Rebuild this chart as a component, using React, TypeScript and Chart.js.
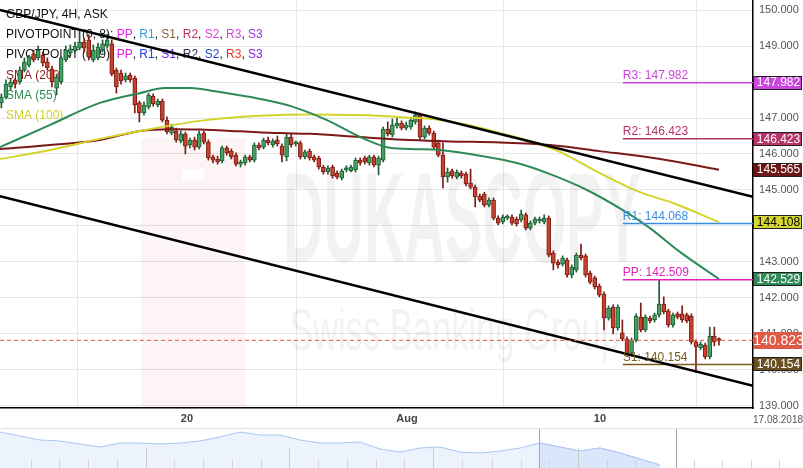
import React, { useEffect, useRef } from 'react';
import { Chart, registerables } from 'chart.js';
Chart.register(...registerables);

const FONT = "'Liberation Sans', Arial, Helvetica, sans-serif";

// ---- candles (4H, GBP/JPY) ----
const OPEN = [
  147.42, 147.58, 147.86, 148.06, 148.00, 148.33, 148.47, 148.78, 148.67, 148.75,
  148.56, 148.36, 147.83, 148.00, 148.61, 148.81, 148.86, 148.94, 149.11, 149.17,
  148.61, 148.67, 148.89, 149.00, 149.06, 148.33, 148.25, 148.06, 148.19, 148.11,
  147.42, 147.14, 147.31, 147.61, 147.36, 147.47, 146.94, 146.58, 146.64, 146.36,
  146.56, 146.25, 146.39, 146.19, 146.58, 146.33, 145.92, 145.86, 145.81, 146.17,
  146.08, 145.97, 145.72, 145.75, 145.92, 145.83, 146.25, 146.19, 146.39, 146.25,
  146.39, 146.22, 145.92, 146.47, 146.28, 146.31, 145.92, 146.08, 145.92, 145.89,
  145.64, 145.50, 145.64, 145.47, 145.33, 145.56, 145.53, 145.56, 145.83, 145.89,
  145.75, 145.92, 145.69, 145.83, 146.69, 146.53, 146.78, 146.86, 146.72, 146.75,
  146.89, 147.08, 146.47, 146.72, 146.58, 146.31, 145.97, 145.36, 145.53, 145.36,
  145.47, 145.44, 145.19, 145.08, 144.83, 144.89, 144.58, 144.72, 144.22, 144.11,
  144.22, 144.25, 144.19, 144.17, 144.31, 143.94, 144.08, 144.14, 144.11, 144.22,
  143.25, 143.00, 142.94, 143.06, 142.64, 142.78, 143.19, 143.17, 142.69, 142.56,
  142.33, 142.11, 141.44, 141.75, 141.17, 141.03, 140.86, 140.47, 140.83, 141.47,
  141.11, 141.44, 141.39, 141.53, 141.83, 141.64, 141.25, 141.56, 141.56, 141.53,
  141.50, 140.78, 140.61, 140.69, 140.36, 140.94, 140.86,
];
const CLOSE = [
  147.58, 147.94, 148.00, 147.94, 148.33, 148.56, 148.69, 148.61, 148.89, 148.53,
  148.39, 148.00, 148.14, 148.67, 148.89, 148.92, 149.00, 149.11, 148.94, 148.69,
  148.89, 148.97, 149.06, 149.17, 148.22, 147.86, 148.03, 148.17, 148.06, 147.36,
  147.14, 147.36, 147.64, 147.39, 147.47, 146.94, 146.61, 146.75, 146.39, 146.56,
  146.22, 146.39, 146.19, 146.56, 146.33, 145.89, 145.83, 145.78, 146.17, 146.03,
  145.92, 145.72, 145.78, 145.92, 145.83, 146.25, 146.17, 146.39, 146.31, 146.36,
  146.28, 145.97, 146.47, 146.25, 146.31, 145.92, 146.06, 145.89, 145.83, 145.64,
  145.50, 145.61, 145.39, 145.36, 145.53, 145.61, 145.64, 145.83, 145.75, 145.78,
  145.92, 145.69, 145.89, 146.69, 146.56, 146.81, 146.86, 146.72, 146.81, 146.94,
  147.08, 146.47, 146.72, 146.58, 146.19, 145.97, 145.36, 145.50, 145.39, 145.50,
  145.39, 145.17, 145.08, 144.81, 144.72, 144.58, 144.72, 144.22, 144.08, 144.25,
  144.25, 144.08, 144.06, 144.33, 143.94, 144.08, 144.19, 144.17, 144.22, 143.19,
  142.97, 142.92, 143.11, 142.64, 142.86, 143.19, 143.11, 142.64, 142.44, 142.31,
  142.08, 141.44, 141.72, 141.17, 141.75, 140.86, 140.47, 140.83, 141.50, 141.11,
  141.47, 141.36, 141.53, 141.83, 141.61, 141.25, 141.53, 141.47, 141.39, 141.36,
  140.78, 140.64, 140.72, 140.36, 140.94, 140.78, 140.82,
];
const HIGH = [
  147.67, 148.06, 148.08, 148.11, 148.42, 148.67, 148.75, 148.89, 149.00, 148.83,
  148.67, 148.44, 148.22, 148.72, 149.00, 149.03, 149.11, 149.44, 149.22, 149.31,
  149.03, 149.08, 149.17, 149.33, 149.17, 148.39, 148.33, 148.25, 148.25, 148.17,
  147.47, 147.44, 147.69, 147.67, 147.53, 147.53, 147.03, 146.83, 146.72, 146.64,
  146.61, 146.44, 146.47, 146.64, 146.64, 146.39, 145.97, 145.94, 146.22, 146.22,
  146.14, 146.03, 145.83, 145.97, 145.97, 146.31, 146.31, 146.44, 146.47, 146.42,
  146.50, 146.28, 146.56, 146.56, 146.36, 146.36, 146.11, 146.14, 145.97, 145.94,
  145.69, 145.67, 145.69, 145.53, 145.58, 145.67, 145.69, 145.89, 145.89, 145.94,
  145.97, 145.97, 145.94, 146.75, 146.89, 146.97, 147.00, 146.92, 146.89, 147.00,
  147.17, 147.14, 146.78, 146.78, 146.64, 146.39, 146.31, 145.61, 145.58, 145.56,
  145.53, 145.50, 145.58, 145.14, 144.89, 144.94, 144.78, 144.78, 144.28, 144.31,
  144.31, 144.31, 144.25, 144.44, 144.36, 144.14, 144.25, 144.25, 144.31, 144.28,
  143.31, 143.06, 143.17, 143.11, 142.92, 143.25, 143.50, 143.22, 142.75, 142.61,
  142.39, 142.17, 141.78, 141.81, 141.81, 141.39, 140.92, 140.89, 141.56, 141.86,
  141.53, 141.50, 141.58, 142.50, 142.03, 141.69, 141.58, 141.61, 141.78, 141.58,
  141.56, 140.83, 140.78, 140.75, 141.19, 141.19, 140.89,
];
const LOW = [
  147.28, 147.53, 147.78, 147.83, 147.94, 148.28, 148.42, 148.56, 148.61, 148.44,
  148.33, 147.86, 147.64, 147.94, 148.56, 148.72, 148.81, 148.89, 148.83, 148.61,
  148.56, 148.61, 148.83, 148.94, 148.17, 147.69, 147.94, 148.00, 148.00, 147.14,
  146.89, 147.08, 147.25, 147.33, 147.31, 146.89, 146.56, 146.53, 146.33, 146.31,
  146.00, 146.17, 146.11, 146.14, 146.28, 145.83, 145.75, 145.72, 145.75, 145.97,
  145.86, 145.67, 145.64, 145.69, 145.78, 145.78, 146.11, 146.14, 146.25, 146.19,
  146.22, 145.78, 145.81, 146.19, 146.22, 145.86, 145.86, 145.83, 145.78, 145.58,
  145.44, 145.44, 145.33, 145.31, 145.28, 145.50, 145.50, 145.50, 145.69, 145.72,
  145.69, 145.64, 145.42, 145.78, 146.50, 146.47, 146.72, 146.67, 146.67, 146.69,
  146.83, 146.39, 146.42, 146.53, 146.14, 145.92, 145.06, 145.22, 145.33, 145.31,
  145.33, 145.11, 145.03, 144.53, 144.67, 144.53, 144.53, 144.17, 144.03, 144.06,
  144.17, 144.03, 144.00, 144.11, 143.89, 143.89, 144.03, 144.08, 144.06, 143.14,
  142.78, 142.83, 142.89, 142.58, 142.56, 142.72, 143.06, 142.58, 142.39, 142.25,
  142.03, 141.11, 141.39, 141.00, 141.11, 140.81, 140.42, 140.39, 140.78, 141.06,
  141.06, 141.31, 141.33, 141.47, 141.56, 141.19, 141.19, 141.42, 141.33, 141.31,
  140.72, 139.94, 140.56, 140.31, 140.31, 140.67, 140.69,
];

// ---- moving averages (candle index, price) ----
const SMA200_X = [-0.3, 10.6, 21.4, 30.1, 36.7, 43.2, 51.9, 60.6, 67.1, 78, 88.8, 97.5, 108.4, 119.3, 130.1, 143.2, 156];
const SMA200_Y = [146.14, 146.25, 146.39, 146.64, 146.69, 146.68, 146.63, 146.58, 146.56, 146.47, 146.39, 146.35, 146.32, 146.25, 146.08, 145.86, 145.565];
const SMA55_X = [-0.3, 10.6, 21.4, 30.1, 35.6, 41, 47.5, 56.2, 63.4, 70.8, 78, 83.8, 88.8, 95.4, 104.7, 112.1, 119.3, 127.3, 135.1, 141, 147.5, 156];
const SMA55_Y = [146.19, 146.81, 147.42, 147.69, 147.83, 147.83, 147.72, 147.53, 147.31, 146.94, 146.47, 146.19, 146.14, 146.11, 145.94, 145.75, 145.44, 145.0, 144.44, 143.94, 143.28, 142.529];
const SMA100_X = [-0.3, 10.6, 21.4, 30.1, 43.2, 56.2, 67.1, 78, 88.8, 93.8, 101.2, 108.4, 115.6, 121.4, 130.1, 138.8, 146, 156];
const SMA100_Y = [145.86, 146.11, 146.42, 146.64, 146.92, 147.06, 147.10, 147.08, 147.01, 146.97, 146.81, 146.58, 146.33, 146.06, 145.47, 144.94, 144.64, 144.108];

// ---- channel trend lines ----
const UPPER_X = [-0.3, 163.4];
const UPPER_Y = [150.0, 144.81];
const LOWER_X = [-0.3, 163.4];
const LOWER_Y = [144.83, 139.56];

// ---- pivot levels ----
const PIVOT_NAMES = ['R3', 'R2', 'R1', 'PP', 'S1'];
const PIVOT_VALUES = [147.982, 146.423, 144.068, 142.509, 140.154];
const PIVOT_COLORS = ['#cc44dd', '#b8336a', '#3a8ee0', '#e020c0', '#7a5a1e'];
const PIVOT_START = 135.1;

const LAST_PRICE = 140.823;

// ---- right-axis tags ----
const TAG_VALUES = [147.982, 146.423, 145.565, 144.108, 142.529, 140.154, 140.823];
const TAG_BG = ['#cc44dd', '#b8336a', '#6e1616', '#d6d630', '#2e8b57', '#6b5020', '#e05a48'];
const TAG_FG = ['#fff', '#fff', '#fff', '#000', '#fff', '#fff', '#fff'];

// ---- axes ----
const X_MIN = -0.3;
const X_MAX = 163.4;
const Y_MIN = 138.944;
const Y_MAX = 150.278;
const TICK_POS = [40.35, 88.17, 130.13];
const TICK_LABELS = ['20', 'Aug', '10'];
const END_DATE = '17.08.2018';

// ---- legend ----
const LEGEND_LINES: [string, string][][] = [
  [['GBP/JPY, 4H, ASK', '#111']],
  [['PIVOTPOINT (0, 8): ', '#111'], ['PP', '#e81ee8'], [', ', '#111'], ['R1', '#3399dd'], [', ', '#111'], ['S1', '#806030'], [', ', '#111'], ['R2', '#c03060'], [', ', '#111'], ['S2', '#e040e0'], [', ', '#111'], ['R3', '#cc44dd'], [', ', '#111'], ['S3', '#9933dd']],
  [['PIVOTPOINT (0, 9): ', '#111'], ['PP', '#e020e0'], [', ', '#111'], ['R1', '#2040e0'], [', ', '#111'], ['S1', '#6622ee'], [', ', '#111'], ['R2', '#303050'], [', ', '#111'], ['S2', '#2244cc'], [', ', '#111'], ['R3', '#ee3322'], [', ', '#111'], ['S3', '#8822dd']],
  [['SMA (200)', '#8b1c1c']],
  [['SMA (55)', '#2e8b57']],
  [['SMA (100)', '#d0d02a']],
];

// ---- navigator (overview) ----
const NAV_VALUES = [150.3, 149.1, 147.9, 147.6, 146.7, 145.8, 147.0, 147.0, 146.7, 147.0, 147.6, 148.8, 150.3, 149.4, 149.4, 147.9, 147.0, 147.0, 147.3, 145.2, 144.3, 145.5, 145.8, 144.3, 144.0, 144.6, 145.5, 147.0, 145.8, 144.6, 145.5, 144.0, 142.2, 140.4];
const NAV_SEL_START = 26.95;
const NAV_SEL_END = 33.8;
const NAV_X_MAX = 40.15;
const NAV_TICKS_SHORT = [1.55, 2.95, 4.4, 5.85, 8.7, 10.15, 11.6, 13.05, 15.9, 17.35, 18.8, 20.2, 23.1, 24.6, 26.05, 27.45, 30.35, 31.75, 34.7, 36.1, 37.55, 38.95];
const NAV_TICKS_TALL = [7.3, 14.45, 21.65, 28.9];

const UP_FILL = '#44a064';
const UP_LINE = '#1f5c34';
const DN_FILL = '#c8412f';
const DN_LINE = '#7a1c12';

function pts(xs: number[], ys: number[]) {
  return xs.map((x, i) => ({ x, y: ys[i] }));
}

const watermarkPlugin = {
  id: 'watermark',
  beforeDatasetsDraw(chart: any) {
    const { ctx, chartArea } = chart;
    ctx.save();
    ctx.beginPath();
    ctx.rect(chartArea.left, chartArea.top, chartArea.right - chartArea.left, chartArea.bottom - chartArea.top);
    ctx.clip();
    ctx.fillStyle = 'rgba(225, 70, 95, 0.06)';
    ctx.fillRect(141, 138, 104, 270);
    ctx.fillStyle = 'rgba(255,255,255,0.9)';
    ctx.fillRect(182, 169, 22, 11);
    ctx.fillStyle = 'rgba(0,0,0,0.05)';
    ctx.font = `bold 128px ${FONT}`;
    ctx.textBaseline = 'alphabetic';
    let w = ctx.measureText('DUKASCOPY').width;
    ctx.save();
    ctx.translate(283, 262);
    ctx.scale(358 / w, 1);
    ctx.fillText('DUKASCOPY', 0, 0);
    ctx.restore();
    ctx.font = `60px ${FONT}`;
    w = ctx.measureText('Swiss Banking Group').width;
    ctx.save();
    ctx.translate(290, 350);
    ctx.scale(330 / w, 1);
    ctx.fillText('Swiss Banking Group', 0, 0);
    ctx.restore();
    ctx.restore();

    // legend text (beneath candles)
    ctx.save();
    ctx.font = `12px ${FONT}`;
    ctx.textBaseline = 'middle';
    const ys = [15, 35, 55, 76, 96, 116];
    LEGEND_LINES.forEach((line, li) => {
      let x = 6;
      line.forEach(([t, c]) => {
        ctx.fillStyle = c;
        ctx.fillText(t, x, ys[li]);
        x += ctx.measureText(t).width;
      });
    });
    ctx.restore();
  },
};

const overlayPlugin = {
  id: 'overlay',
  afterDraw(chart: any) {
    const { ctx, chartArea, scales } = chart;
    const xs = scales.x;
    const yS = scales.y;
    ctx.save();
    // pivot labels
    ctx.font = `12px ${FONT}`;
    ctx.textBaseline = 'bottom';
    ctx.textAlign = 'left';
    PIVOT_NAMES.forEach((n, i) => {
      const y = yS.getPixelForValue(PIVOT_VALUES[i]);
      const x = xs.getPixelForValue(PIVOT_START);
      ctx.fillStyle = PIVOT_COLORS[i];
      ctx.fillText(`${n}: ${PIVOT_VALUES[i].toFixed(3)}`, x, y - 1);
    });
    // axis tags
    const left = chartArea.right;
    const right = chart.width - 1;
    TAG_VALUES.forEach((v, i) => {
      const y = yS.getPixelForValue(v);
      const isLast = v === LAST_PRICE;
      const h = isLast ? 17 : 14;
      ctx.fillStyle = TAG_BG[i];
      ctx.fillRect(left, Math.round(y - h / 2), right - left, h);
      ctx.strokeStyle = isLast ? TAG_BG[i] : '#222';
      ctx.lineWidth = 1;
      ctx.strokeRect(left + 0.5, Math.round(y - h / 2) + 0.5, right - left - 1, h - 1);
      ctx.fillStyle = TAG_FG[i];
      ctx.font = isLast ? `14px ${FONT}` : `12px ${FONT}`;
      ctx.textAlign = 'center';
      ctx.textBaseline = 'middle';
      ctx.fillText(v.toFixed(3), (left + right) / 2 + 1, y + 0.5);
    });
    // end date label
    ctx.font = `10px ${FONT}`;
    ctx.fillStyle = '#555';
    ctx.textAlign = 'center';
    ctx.textBaseline = 'middle';
    ctx.fillText(END_DATE, 778, chartArea.bottom + 12);
    ctx.restore();
  },
};

const navPlugin = {
  id: 'navdeco',
  beforeDatasetsDraw(chart: any) {
    const { ctx } = chart;
    ctx.save();
    ctx.strokeStyle = '#e2e2e2';
    ctx.lineWidth = 1;
    ctx.beginPath();
    ctx.moveTo(0, 0.5);
    ctx.lineTo(chart.width, 0.5);
    ctx.stroke();
    ctx.restore();
  },
  afterDatasetsDraw(chart: any) {
    const { ctx, scales } = chart;
    const xs = scales.x;
    const H = chart.height;
    ctx.save();
    ctx.lineWidth = 1;
    ctx.strokeStyle = '#d4d4d4';
    NAV_TICKS_SHORT.forEach((v) => {
      const x = Math.round(xs.getPixelForValue(v)) + 0.5;
      ctx.beginPath();
      ctx.moveTo(x, H - 8);
      ctx.lineTo(x, H);
      ctx.stroke();
    });
    ctx.strokeStyle = '#cccccc';
    NAV_TICKS_TALL.forEach((v) => {
      const x = Math.round(xs.getPixelForValue(v)) + 0.5;
      ctx.beginPath();
      ctx.moveTo(x, H - 20);
      ctx.lineTo(x, H);
      ctx.stroke();
    });
    ctx.strokeStyle = '#a8a8a8';
    [NAV_SEL_START, NAV_SEL_END].forEach((v) => {
      const x = Math.round(xs.getPixelForValue(v)) + 0.5;
      ctx.beginPath();
      ctx.moveTo(x, 1);
      ctx.lineTo(x, H);
      ctx.stroke();
    });
    ctx.restore();
  },
};

export default function App() {
  const mainRef = useRef<HTMLCanvasElement | null>(null);
  const navRef = useRef<HTMLCanvasElement | null>(null);

  useEffect(() => {
    const up = OPEN.map((o, i) => CLOSE[i] >= o);
    const bodies = OPEN.map((o, i) => ({ x: i, y: [o, CLOSE[i]] }));
    const wicks = OPEN.map((o, i) => ({ x: i, y: [LOW[i], HIGH[i]] }));

    const pivotSets = PIVOT_VALUES.map((v, i) => ({
      type: 'line',
      data: [{ x: PIVOT_START, y: v }, { x: X_MAX, y: v }],
      borderColor: PIVOT_COLORS[i],
      borderWidth: 1.5,
      pointRadius: 0,
      fill: false,
      order: 1,
    }));

    const main = new Chart(mainRef.current as HTMLCanvasElement, {
      type: 'bar',
      data: {
        datasets: [
          {
            type: 'line',
            data: [{ x: X_MIN, y: LAST_PRICE }, { x: X_MAX, y: LAST_PRICE }],
            borderColor: '#e8553f',
            borderWidth: 1,
            borderDash: [4, 3],
            pointRadius: 0,
            fill: false,
            order: 0,
          },
          {
            type: 'line',
            data: pts(UPPER_X, UPPER_Y),
            borderColor: '#000',
            borderWidth: 2.5,
            pointRadius: 0,
            fill: false,
            order: 1,
          },
          {
            type: 'line',
            data: pts(LOWER_X, LOWER_Y),
            borderColor: '#000',
            borderWidth: 2.5,
            pointRadius: 0,
            fill: false,
            order: 1,
          },
          ...pivotSets,
          {
            type: 'line',
            data: pts(SMA55_X, SMA55_Y),
            borderColor: '#2e8b57',
            borderWidth: 2,
            pointRadius: 0,
            cubicInterpolationMode: 'monotone',
            fill: false,
            order: 2,
          },
          {
            type: 'line',
            data: pts(SMA100_X, SMA100_Y),
            borderColor: '#d4d42c',
            borderWidth: 2,
            pointRadius: 0,
            cubicInterpolationMode: 'monotone',
            fill: false,
            order: 2,
          },
          {
            type: 'line',
            data: pts(SMA200_X, SMA200_Y),
            borderColor: '#7b1818',
            borderWidth: 2,
            pointRadius: 0,
            cubicInterpolationMode: 'monotone',
            fill: false,
            order: 2,
          },
          {
            type: 'bar',
            data: bodies,
            backgroundColor: up.map((u) => (u ? UP_FILL : DN_FILL)),
            borderColor: up.map((u) => (u ? UP_LINE : DN_LINE)),
            borderWidth: 1,
            borderSkipped: false,
            barThickness: 4,
            minBarLength: 2,
            grouped: false,
            order: 4,
          },
          {
            type: 'bar',
            data: wicks,
            backgroundColor: up.map((u) => (u ? UP_LINE : DN_LINE)),
            borderWidth: 0,
            barThickness: 1,
            grouped: false,
            order: 5,
          },
        ] as any,
      },
      options: {
        responsive: false,
        animation: false,
        devicePixelRatio: 1,
        layout: { padding: 0 },
        plugins: { legend: { display: false }, tooltip: { enabled: false } },
        scales: {
          x: {
            type: 'linear',
            min: X_MIN,
            max: X_MAX,
            offset: false,
            afterBuildTicks: (s: any) => {
              s.ticks = TICK_POS.map((v) => ({ value: v }));
            },
            afterFit: (s: any) => {
              s.height = 20;
              s.paddingLeft = 0;
              s.paddingRight = 0;
            },
            ticks: {
              callback: (_v: any, i: number) => TICK_LABELS[i],
              font: { family: FONT, size: 11, weight: 'bold' },
              color: '#444',
              padding: 4,
              maxRotation: 0,
              autoSkip: false,
            },
            grid: { color: '#e6e6e6', drawTicks: false },
            border: { color: '#000', width: 1.5 },
          },
          y: {
            type: 'linear',
            position: 'right',
            min: Y_MIN,
            max: Y_MAX,
            afterFit: (s: any) => {
              s.width = 50;
              s.paddingTop = 0;
              s.paddingBottom = 0;
            },
            ticks: {
              stepSize: 1,
              includeBounds: false,
              callback: (v: any) => Number(v).toFixed(3),
              font: { family: FONT, size: 11 },
              color: '#555',
              padding: 6,
            },
            grid: { color: '#e6e6e6', drawTicks: false },
            border: { color: '#000', width: 1.5 },
          },
        },
      } as any,
      plugins: [watermarkPlugin, overlayPlugin],
    });

    const navAll = NAV_VALUES.map((v, i) => ({ x: i, y: v }));
    const navSel = navAll.filter((p) => p.x >= NAV_SEL_START && p.x <= NAV_SEL_END);
    const nav = new Chart(navRef.current as HTMLCanvasElement, {
      type: 'line',
      data: {
        datasets: [
          {
            data: navAll,
            borderColor: '#a9c5f0',
            borderWidth: 1,
            backgroundColor: '#edf3fd',
            fill: 'start',
            pointRadius: 0,
            tension: 0,
            order: 1,
          },
          {
            data: navSel,
            borderColor: '#a9c5f0',
            borderWidth: 1,
            backgroundColor: '#dae6f9',
            fill: 'start',
            pointRadius: 0,
            tension: 0,
            order: 0,
          },
        ],
      },
      options: {
        responsive: false,
        animation: false,
        devicePixelRatio: 1,
        layout: { padding: 0 },
        plugins: { legend: { display: false }, tooltip: { enabled: false } },
        scales: {
          x: { type: 'linear', min: 0, max: NAV_X_MAX, display: false },
          y: { type: 'linear', min: 139.5, max: 151.5, display: false },
        },
      } as any,
      plugins: [navPlugin],
    });

    return () => {
      main.destroy();
      nav.destroy();
    };
  }, []);

  return (
    <div style={{ position: 'absolute', left: 0, top: 0, width: 803, height: 468, background: '#fff', overflow: 'hidden' }}>
      <canvas ref={mainRef} width={803} height={428} style={{ position: 'absolute', left: 0, top: 0, width: 803, height: 428 }} />
      <canvas ref={navRef} width={803} height={40} style={{ position: 'absolute', left: 0, top: 428, width: 803, height: 40 }} />
    </div>
  );
}
